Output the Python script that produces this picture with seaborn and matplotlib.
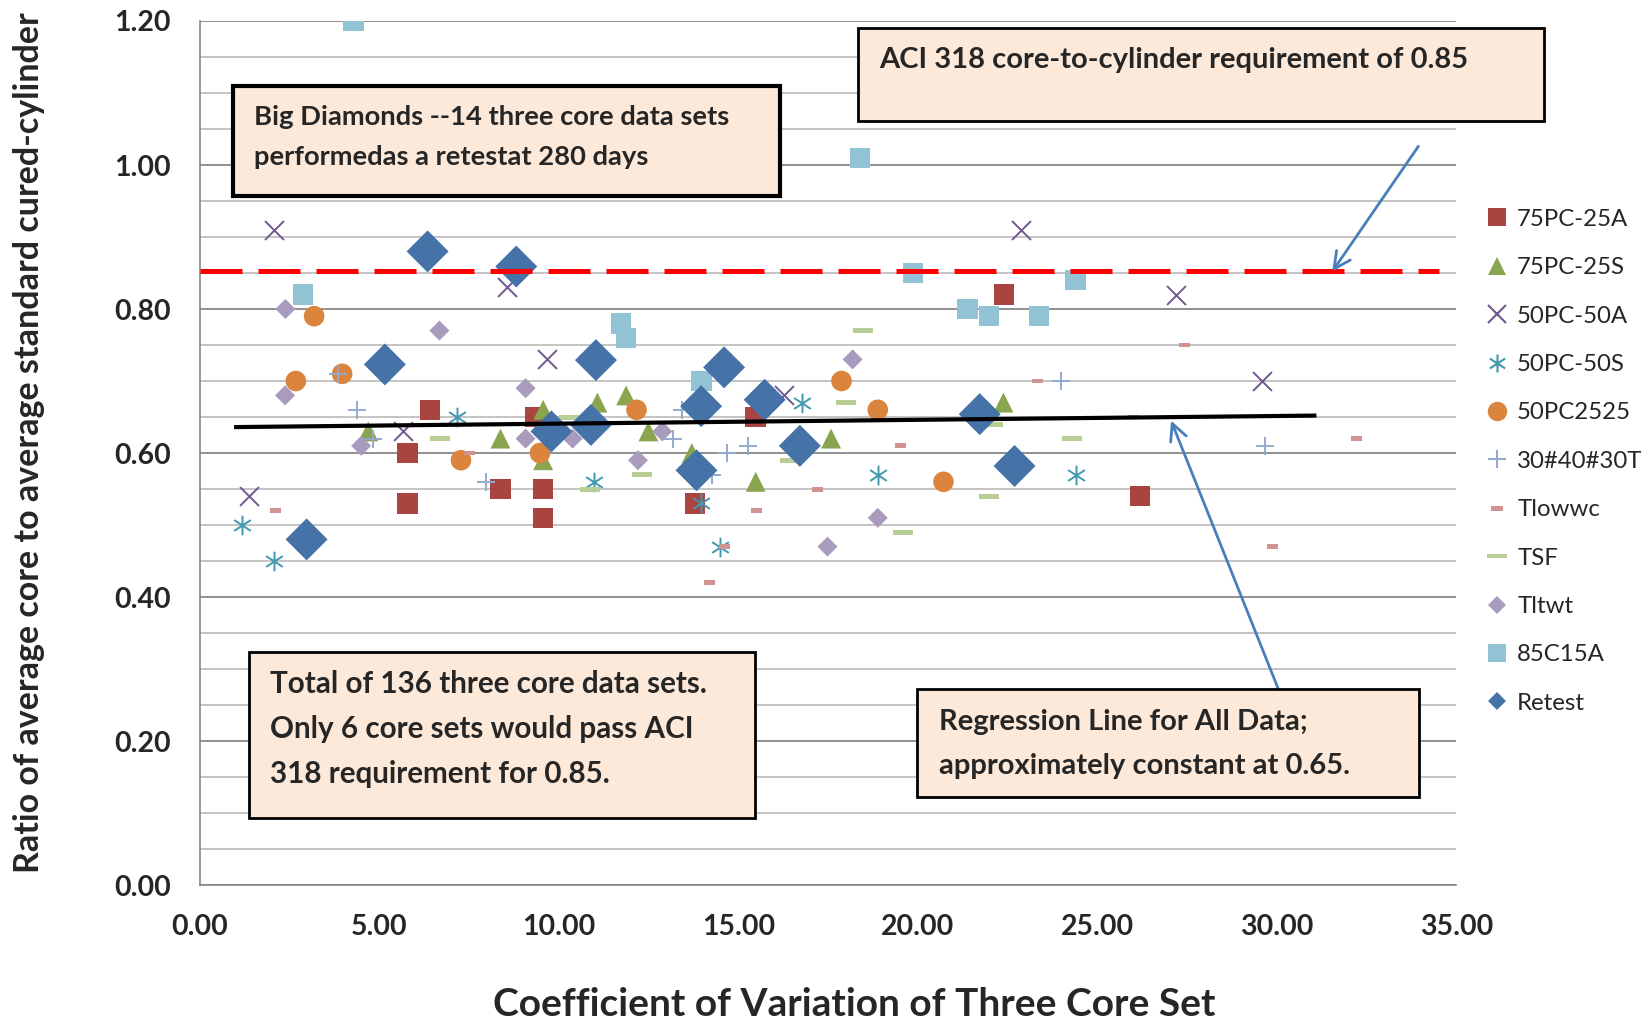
import matplotlib
matplotlib.use('Agg')
import matplotlib.pyplot as plt
import seaborn as sns
from matplotlib.path import Path
from matplotlib.lines import Line2D
from matplotlib.patches import Rectangle
from matplotlib.ticker import MultipleLocator, FormatStrFormatter

# ---- data ----
pc75_25a_x = [6.41, 9.35, 5.78, 5.78, 8.37, 9.56, 9.56, 13.79, 15.47, 22.39, 26.18]
pc75_25a_y = [0.66, 0.65, 0.60, 0.53, 0.55, 0.55, 0.51, 0.53, 0.65, 0.82, 0.54]

pc75_25s_x = [4.69, 9.56, 11.07, 11.87, 8.37, 9.56, 12.49, 13.70, 15.48, 17.58, 22.38]
pc75_25s_y = [0.63, 0.66, 0.67, 0.68, 0.62, 0.59, 0.63, 0.60, 0.56, 0.62, 0.67]

pc50_50a_x = [2.06, 8.56, 9.67, 5.66, 1.36, 16.28, 22.87, 27.18, 29.59]
pc50_50a_y = [0.91, 0.83, 0.73, 0.63, 0.54, 0.68, 0.91, 0.82, 0.70]

pc50_50s_x = [7.17, 10.97, 1.16, 2.06, 16.77, 13.97, 18.88, 14.48, 24.39]
pc50_50s_y = [0.65, 0.56, 0.50, 0.45, 0.67, 0.53, 0.57, 0.47, 0.57]

pc2525_x = [3.18, 2.67, 3.96, 12.16, 7.27, 9.47, 17.87, 18.88, 20.71]
pc2525_y = [0.79, 0.70, 0.71, 0.66, 0.59, 0.60, 0.70, 0.66, 0.56]

t304030_x = [3.85, 4.36, 4.81, 7.98, 13.42, 13.19, 14.67, 15.27, 14.25, 23.98, 29.68]
t304030_y = [0.71, 0.66, 0.62, 0.56, 0.66, 0.62, 0.60, 0.61, 0.57, 0.70, 0.61]

tlowwc_x = [2.10, 7.50, 15.50, 17.20, 19.51, 14.60, 14.20, 23.32, 27.42, 26.00, 32.22, 29.88]
tlowwc_y = [0.52, 0.60, 0.52, 0.55, 0.61, 0.47, 0.42, 0.70, 0.75, 0.65, 0.62, 0.47]

tsf_x = [10.28, 6.68, 10.86, 12.30, 18.48, 17.99, 22.10, 16.43, 21.98, 19.59, 24.28]
tsf_y = [0.65, 0.62, 0.55, 0.57, 0.77, 0.67, 0.64, 0.59, 0.54, 0.49, 0.62]

tltwt_x = [2.38, 6.67, 2.37, 9.07, 4.49, 9.07, 10.38, 12.20, 12.88, 18.18, 18.88, 17.48]
tltwt_y = [0.80, 0.77, 0.68, 0.69, 0.61, 0.62, 0.62, 0.59, 0.63, 0.73, 0.51, 0.47]

c85_15a_x = [4.28, 18.38, 2.87, 11.73, 11.87, 13.97, 19.87, 21.38, 21.98, 23.38, 24.39]
c85_15a_y = [1.20, 1.01, 0.82, 0.78, 0.76, 0.70, 0.85, 0.80, 0.79, 0.79, 0.84]

retest_x = [6.34, 8.81, 5.15, 11.03, 9.79, 10.89, 2.97, 14.60, 13.96, 15.73, 21.72, 16.71, 13.83, 22.69]
retest_y = [0.88, 0.859, 0.723, 0.729, 0.63, 0.639, 0.48, 0.719, 0.665, 0.674, 0.654, 0.61, 0.576, 0.582]

# ACI requirement line and regression line
aci_x = [0.0, 34.5]
aci_y = [0.853, 0.853]
reg_x = [0.95, 31.1]
reg_y = [0.636, 0.652]

# custom marker shapes
asterisk = Path([(0, -1), (0, 1), (-0.85, -0.55), (0.85, 0.55), (-0.85, 0.55), (0.85, -0.55)],
                [Path.MOVETO, Path.LINETO] * 3)
dash_short = Path([(-1, -0.45), (1, -0.45), (1, 0.45), (-1, 0.45), (-1, -0.45)],
                  [Path.MOVETO] + [Path.LINETO] * 3 + [Path.CLOSEPOLY])
dash_long = Path([(-1, -0.25), (1, -0.25), (1, 0.25), (-1, 0.25), (-1, -0.25)],
                 [Path.MOVETO] + [Path.LINETO] * 3 + [Path.CLOSEPOLY])

# label, x, y, colour, marker, scatter size, filled, legend markersize
series = [
    ('75PC-25A', pc75_25a_x, pc75_25a_y, '#A94441', 's', 215, True, 13),
    ('75PC-25S', pc75_25s_x, pc75_25s_y, '#8AA54F', '^', 205, True, 13),
    ('50PC-50A', pc50_50a_x, pc50_50a_y, '#71588F', 'x', 185, False, 12.5),
    ('50PC-50S', pc50_50s_x, pc50_50s_y, '#4198AF', asterisk, 200, False, 13),
    ('50PC2525', pc2525_x, pc2525_y, '#DB843D', 'o', 220, True, 14),
    ('30#40#30T', t304030_x, t304030_y, '#93A9CF', '+', 185, False, 13.5),
    ('Tlowwc', tlowwc_x, tlowwc_y, '#D19392', dash_short, 63, True, 8),
    ('TSF', tsf_x, tsf_y, '#B9CD96', dash_long, 207, True, 14),
    ('Tltwt', tltwt_x, tltwt_y, '#A99BBD', 'D', 104, True, 9),
    ('85C15A', c85_15a_x, c85_15a_y, '#92C3D4', 's', 215, True, 13),
    ('Retest', retest_x, retest_y, '#4572A7', 'D', 457, True, 9),
]

sns.set_style('white')
plt.rcParams['font.family'] = ['Lato', 'DejaVu Sans']

fig = plt.figure(figsize=(16.5, 10.24), dpi=100)
ax = fig.add_axes([0.1212, 0.1357, 0.7615, 0.8438])

handles = []
for name, xs, ys, col, mk, s, filled, lms in series:
    if filled:
        sns.scatterplot(x=xs, y=ys, ax=ax, marker=mk, s=s, color=col,
                        edgecolor='none', linewidth=0, legend=False, zorder=3)
    else:
        sns.scatterplot(x=xs, y=ys, ax=ax, marker=mk, s=s, color=col,
                        edgecolor=col, linewidth=1.4, legend=False, zorder=3)
    handles.append(Line2D([], [], ls='none', marker=mk, markersize=lms, color=col,
                          markeredgecolor=col if not filled else 'none',
                          markeredgewidth=1.5 if not filled else 0, label=name))

# reference lines
ax.plot(aci_x, aci_y, color='#FF0000', lw=3.6, dashes=(8.4, 3.2), zorder=4)
ax.plot(reg_x, reg_y, color='black', lw=3.0, solid_capstyle='butt', zorder=4)

# arrows
arrow_kw = dict(arrowstyle='->', color='#4A7EBB', lw=2.0, mutation_scale=30,
                shrinkA=0, shrinkB=0)
ax.annotate('', xy=(31.54, 0.852), xytext=(33.94, 1.026), arrowprops=arrow_kw,
            annotation_clip=False, zorder=5)
ax.annotate('', xy=(27.05, 0.645), xytext=(30.04, 0.272), arrowprops=arrow_kw,
            annotation_clip=False, zorder=5)

# axes styling
ax.set_xlim(0, 35)
ax.set_ylim(0, 1.2)
ax.xaxis.set_major_locator(MultipleLocator(5))
ax.yaxis.set_major_locator(MultipleLocator(0.2))
ax.yaxis.set_minor_locator(MultipleLocator(0.05))
ax.xaxis.set_major_formatter(FormatStrFormatter('%.2f'))
ax.yaxis.set_major_formatter(FormatStrFormatter('%.2f'))
ax.set_axisbelow(True)
ax.yaxis.grid(True, which='major', color='#878787', lw=1.3)
ax.yaxis.grid(True, which='minor', color='#BFBFBF', lw=1.3)
ax.xaxis.grid(False)
for side in ['top', 'right']:
    ax.spines[side].set_visible(False)
for side in ['left', 'bottom']:
    ax.spines[side].set_color('#868686')
    ax.spines[side].set_linewidth(1.2)
ax.tick_params(axis='both', which='major', direction='out', length=8, width=1.2,
               color='#868686', labelsize=20.5, pad=13)
ax.tick_params(axis='y', which='minor', length=0)
for lab in ax.get_xticklabels() + ax.get_yticklabels():
    lab.set_fontweight('bold')

fig.text(29.5 / 1650, 1 - 443 / 1024, 'Ratio of average core to average standard cured-cylinder',
         rotation=90, ha='center', va='center', fontsize=24.5, fontweight='bold')
fig.text(854 / 1650, 1 - 1005 / 1024, 'Coefficient of Variation of Three Core Set',
         ha='center', va='center', fontsize=28, fontweight='bold')

# annotation boxes (figure pixel coordinates)
def box(x0, y0, x1, y1, lw=2.0):
    fig.patches.append(Rectangle((x0 / 1650, 1 - y1 / 1024), (x1 - x0) / 1650, (y1 - y0) / 1024,
                                 transform=fig.transFigure, facecolor='#FDE9D9',
                                 edgecolor='black', lw=lw, zorder=6))

box(232.6, 86.3, 779.8, 195.7, lw=3.0)
box(857.6, 28.4, 1543.7, 121)
box(249.4, 652.4, 754.5, 817.6)
box(916.5, 689.3, 1418.5, 796.6)

for txt, yy in [('Big Diamonds --14 three core data sets', 117),
                ('performedas a retestat 280 days', 157)]:
    fig.text(253.6 / 1650, 1 - yy / 1024, txt, ha='left', va='center', fontsize=19.7,
             fontweight='bold', zorder=7)
fig.text(878.7 / 1650, 1 - 60 / 1024, 'ACI 318 core-to-cylinder requirement of 0.85',
         ha='left', va='center', fontsize=21, fontweight='bold', zorder=7)
for txt, yy in [('Total of 136 three core data sets.', 684),
                ('Only 6 core sets would pass ACI', 729),
                ('318 requirement for 0.85.', 773.5)]:
    fig.text(270.4 / 1650, 1 - yy / 1024, txt, ha='left', va='center', fontsize=21.3,
             fontweight='bold', zorder=7)
for txt, yy in [('Regression Line for All Data;', 722),
                ('approximately constant at 0.65.', 766)]:
    fig.text(938.7 / 1650, 1 - yy / 1024, txt, ha='left', va='center', fontsize=21,
             fontweight='bold', zorder=7)

fig.legend(handles=handles, loc='upper left', bbox_to_anchor=(0.8991, 0.796),
           frameon=False, fontsize=17.3, handlelength=1.1, handletextpad=0.3,
           labelspacing=1.14, borderpad=0, borderaxespad=0)

fig.savefig('out.png', dpi=100)
